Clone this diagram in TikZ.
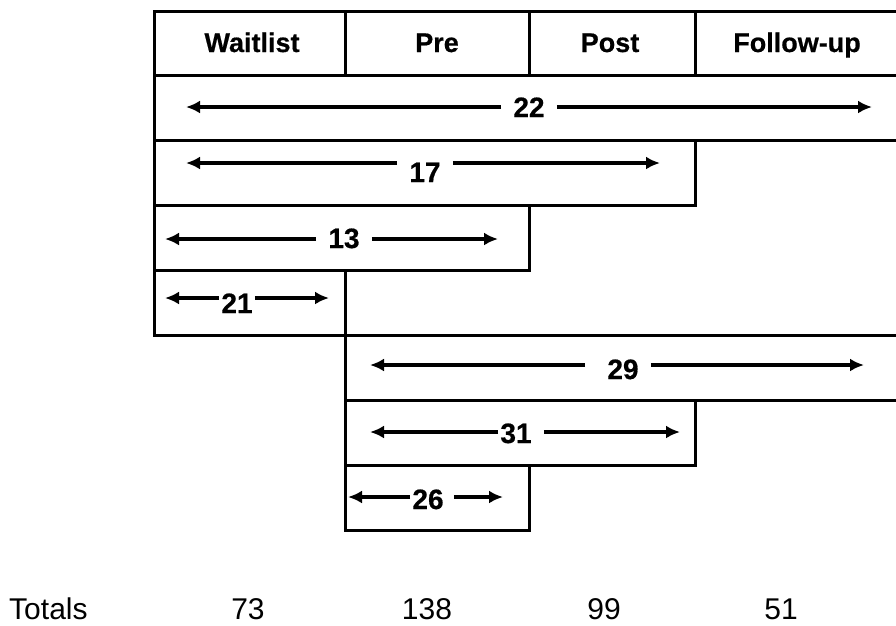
\documentclass[tikz,border=0pt]{standalone}
\usepackage{fontspec}
\setmainfont{Liberation Sans}[BoldFeatures={FakeBold=0.6}]
\usetikzlibrary{arrows.meta}
\tikzset{
  grid/.style={draw=black, line width=2.8pt, fill=none, inner sep=0pt, anchor=north west},
  head/.style={font=\fontsize{27}{30}\selectfont\bfseries, inner sep=0pt, anchor=base},
  cnt/.style={font=\fontsize{28}{30}\selectfont\bfseries, inner sep=0pt, anchor=base},
  tot/.style={font=\fontsize{30}{33}\selectfont, inner sep=0pt, anchor=base},
  span/.style={line width=4pt, -{Latex[length=14pt,width=13pt]}},
}
\newcommand{\cell}[5]{% name, left, top, right, bottom
  \node[grid, minimum width={#4pt-#2pt}, minimum height={#5pt-#3pt}] (#1) at (#2,#3) {};}
\begin{document}
\begin{tikzpicture}[x=1pt, y=-1pt]
\useasboundingbox (0,0) rectangle (896,625);
\begin{scope}
\clip (0,0) rectangle (896,625);
% header row
\cell{hw}{153}{10}{344}{74}
\cell{hp}{344}{10}{528}{74}
\cell{hq}{528}{10}{694}{74}
\cell{hf}{694}{10}{910}{74}
% upper block, starting at the waitlist
\cell{r22}{153}{74}{910}{139}
\cell{r17}{153}{139}{694}{204}
\cell{r13}{153}{204}{528}{269}
\cell{r21}{153}{269}{344}{334}
% lower block, starting at pre
\cell{r29}{344}{334}{910}{399}
\cell{r31}{344}{399}{694}{464}
\cell{r26}{344}{464}{528}{529}
\end{scope}

% column titles
\node[head] (tw) at (252,52) {Waitlist};
\node[head] (tp) at (437,52) {Pre};
\node[head] (tq) at (610,52) {Post};
\node[head] (tf) at (797,52) {Follow-up};

% counts with their spans
\node[cnt] (n22) at (529,117) {22};
\coordinate (a22l) at (186,107); \coordinate (a22r) at (872,107);
\draw[span] ([xshift=-12pt]n22.west |- a22l) -- (a22l);
\draw[span] ([xshift=12pt]n22.east |- a22r) -- (a22r);

\node[cnt] (n17) at (425,182) {17};
\coordinate (a17l) at (186,163); \coordinate (a17r) at (660,163);
\draw[span] ([xshift=-12pt]n17.west |- a17l) -- (a17l);
\draw[span] ([xshift=12pt]n17.east |- a17r) -- (a17r);

\node[cnt] (n13) at (344,248) {13};
\coordinate (a13l) at (165,239); \coordinate (a13r) at (498,239);
\draw[span] ([xshift=-12pt]n13.west |- a13l) -- (a13l);
\draw[span] ([xshift=12pt]n13.east |- a13r) -- (a13r);

\node[cnt] (n21) at (237,313) {21};
\coordinate (a21l) at (165,298); \coordinate (a21r) at (329,298);
\draw[span] ([xshift=-2pt]n21.west |- a21l) -- (a21l);
\draw[span] ([xshift=2pt]n21.east |- a21r) -- (a21r);

\node[cnt] (n29) at (623,379) {29};
\coordinate (a29l) at (370,365); \coordinate (a29r) at (864,365);
\draw[span] ([xshift=-22pt]n29.west |- a29l) -- (a29l);
\draw[span] ([xshift=12pt]n29.east |- a29r) -- (a29r);

\node[cnt] (n31) at (516,443) {31};
\coordinate (a31l) at (370,432); \coordinate (a31r) at (680,432);
\draw[span] ([xshift=-2pt]n31.west |- a31l) -- (a31l);
\draw[span] ([xshift=12pt]n31.east |- a31r) -- (a31r);

\node[cnt] (n26) at (428,509) {26};
\coordinate (a26l) at (348,497); \coordinate (a26r) at (503,497);
\draw[span] ([xshift=-2pt]n26.west |- a26l) -- (a26l);
\draw[span] ([xshift=10pt]n26.east |- a26r) -- (a26r);

% column sums
\node[tot, anchor=base west] (tl) at (9,619) {Totals};
\node[tot] (s1) at (248,619) {73};
\node[tot] (s2) at (427,619) {138};
\node[tot] (s3) at (604,619) {99};
\node[tot] (s4) at (781,619) {51};
\end{tikzpicture}
\end{document}
